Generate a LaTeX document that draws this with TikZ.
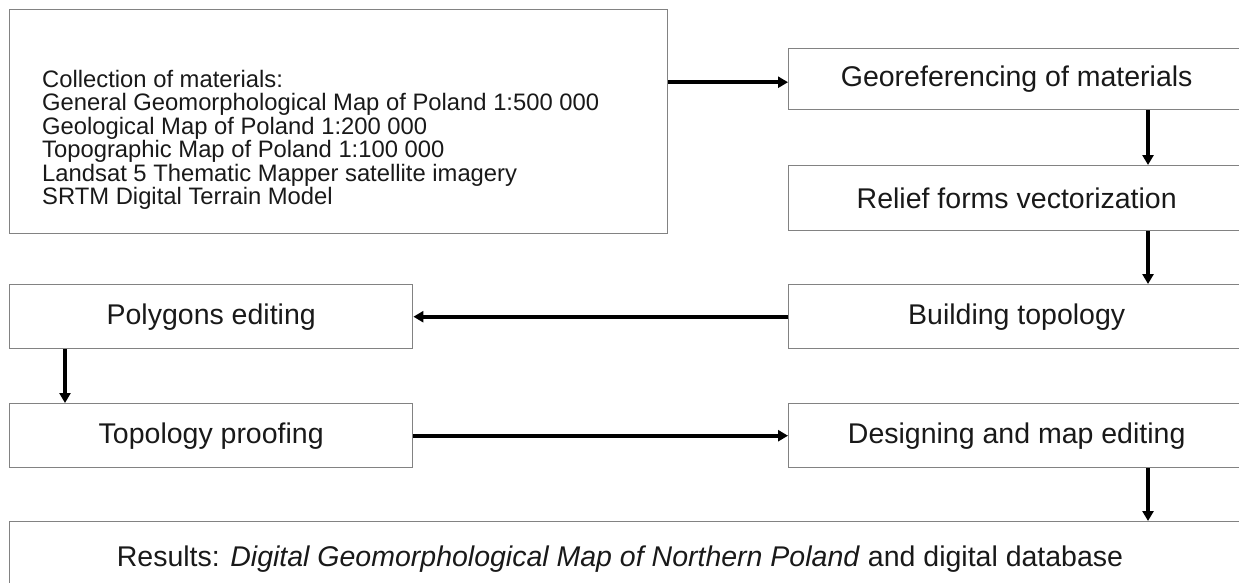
\documentclass[tikz,border=0pt]{standalone}
\usepackage{fontspec}
\setmainfont{Liberation Sans}
\usetikzlibrary{arrows.meta,calc}
\definecolor{boxgray}{RGB}{130,130,130}
\definecolor{ink}{RGB}{25,25,25}
\begin{document}
\begin{tikzpicture}[x=1pt,y=-1pt,
  stepbox/.style={draw=boxgray,line width=1.4pt,rectangle,inner sep=0pt,anchor=north west,
    font=\fontsize{28.5}{32}\selectfont,text=ink},
  arr/.style={line width=3.8pt,-{Triangle[length=10pt,width=11pt]},black},
  listtext/.style={font=\fontsize{23.8}{23.5}\selectfont,align=left,anchor=north west,inner sep=0pt,text=ink}]
\useasboundingbox (0,0) rectangle (1239,582);
\begin{scope}
\clip (0,0) rectangle (1239,582);
% collection box
\node[stepbox,minimum width=658pt,minimum height=224pt] (coll) at (9,9) {};
\node[listtext] (colltext) at (42,70) {Collection of materials:\\
General Geomorphological Map of Poland 1:500 000\\
Geological Map of Poland 1:200 000\\
Topographic Map of Poland 1:100 000\\
Landsat 5 Thematic Mapper satellite imagery\\
SRTM Digital Terrain Model};
% right column (boxes run past the right edge of the picture)
\node[stepbox,minimum width=456pt,minimum height=61pt] (geo) at (788,48) {Georeferencing of materials};
\node[stepbox,minimum width=456pt,minimum height=65pt] (rel) at (788,165) {Relief forms vectorization};
\node[stepbox,minimum width=456pt,minimum height=64pt] (build) at (788,284) {Building topology};
\node[stepbox,minimum width=456pt,minimum height=64pt] (design) at (788,403) {Designing and map editing};
% left column
\node[stepbox,minimum width=403pt,minimum height=64pt] (poly) at (9,284) {Polygons editing};
\node[stepbox,minimum width=403pt,minimum height=64pt] (proof) at (9,403) {Topology proofing};
% results
\node[stepbox,minimum width=1235pt,minimum height=78pt] (res) at (9,521) {};
\node[font=\fontsize{28.5}{32}\selectfont,text=ink,anchor=base,inner sep=0pt] (restext) at (620,566)
  {Results: \textit{Digital Geomorphological Map of Northern Poland} and digital database};
% arrows
\draw[arr] (coll.east |- geo.west) ++(0,3) coordinate (a1) -- (a1 -| geo.west);
\draw[arr] (geo.south -| 1148,0) -- (rel.north -| 1148,0);
\draw[arr] (rel.south -| 1148,0) -- (build.north -| 1148,0);
\draw[arr] (build.west) -- (poly.east);
\draw[arr] (poly.south -| 65,0) -- (proof.north -| 65,0);
\draw[arr] (proof.east) -- (design.west);
\draw[arr] (design.south -| 1148,0) -- (res.north -| 1148,0);
\end{scope}
\end{tikzpicture}
\end{document}
